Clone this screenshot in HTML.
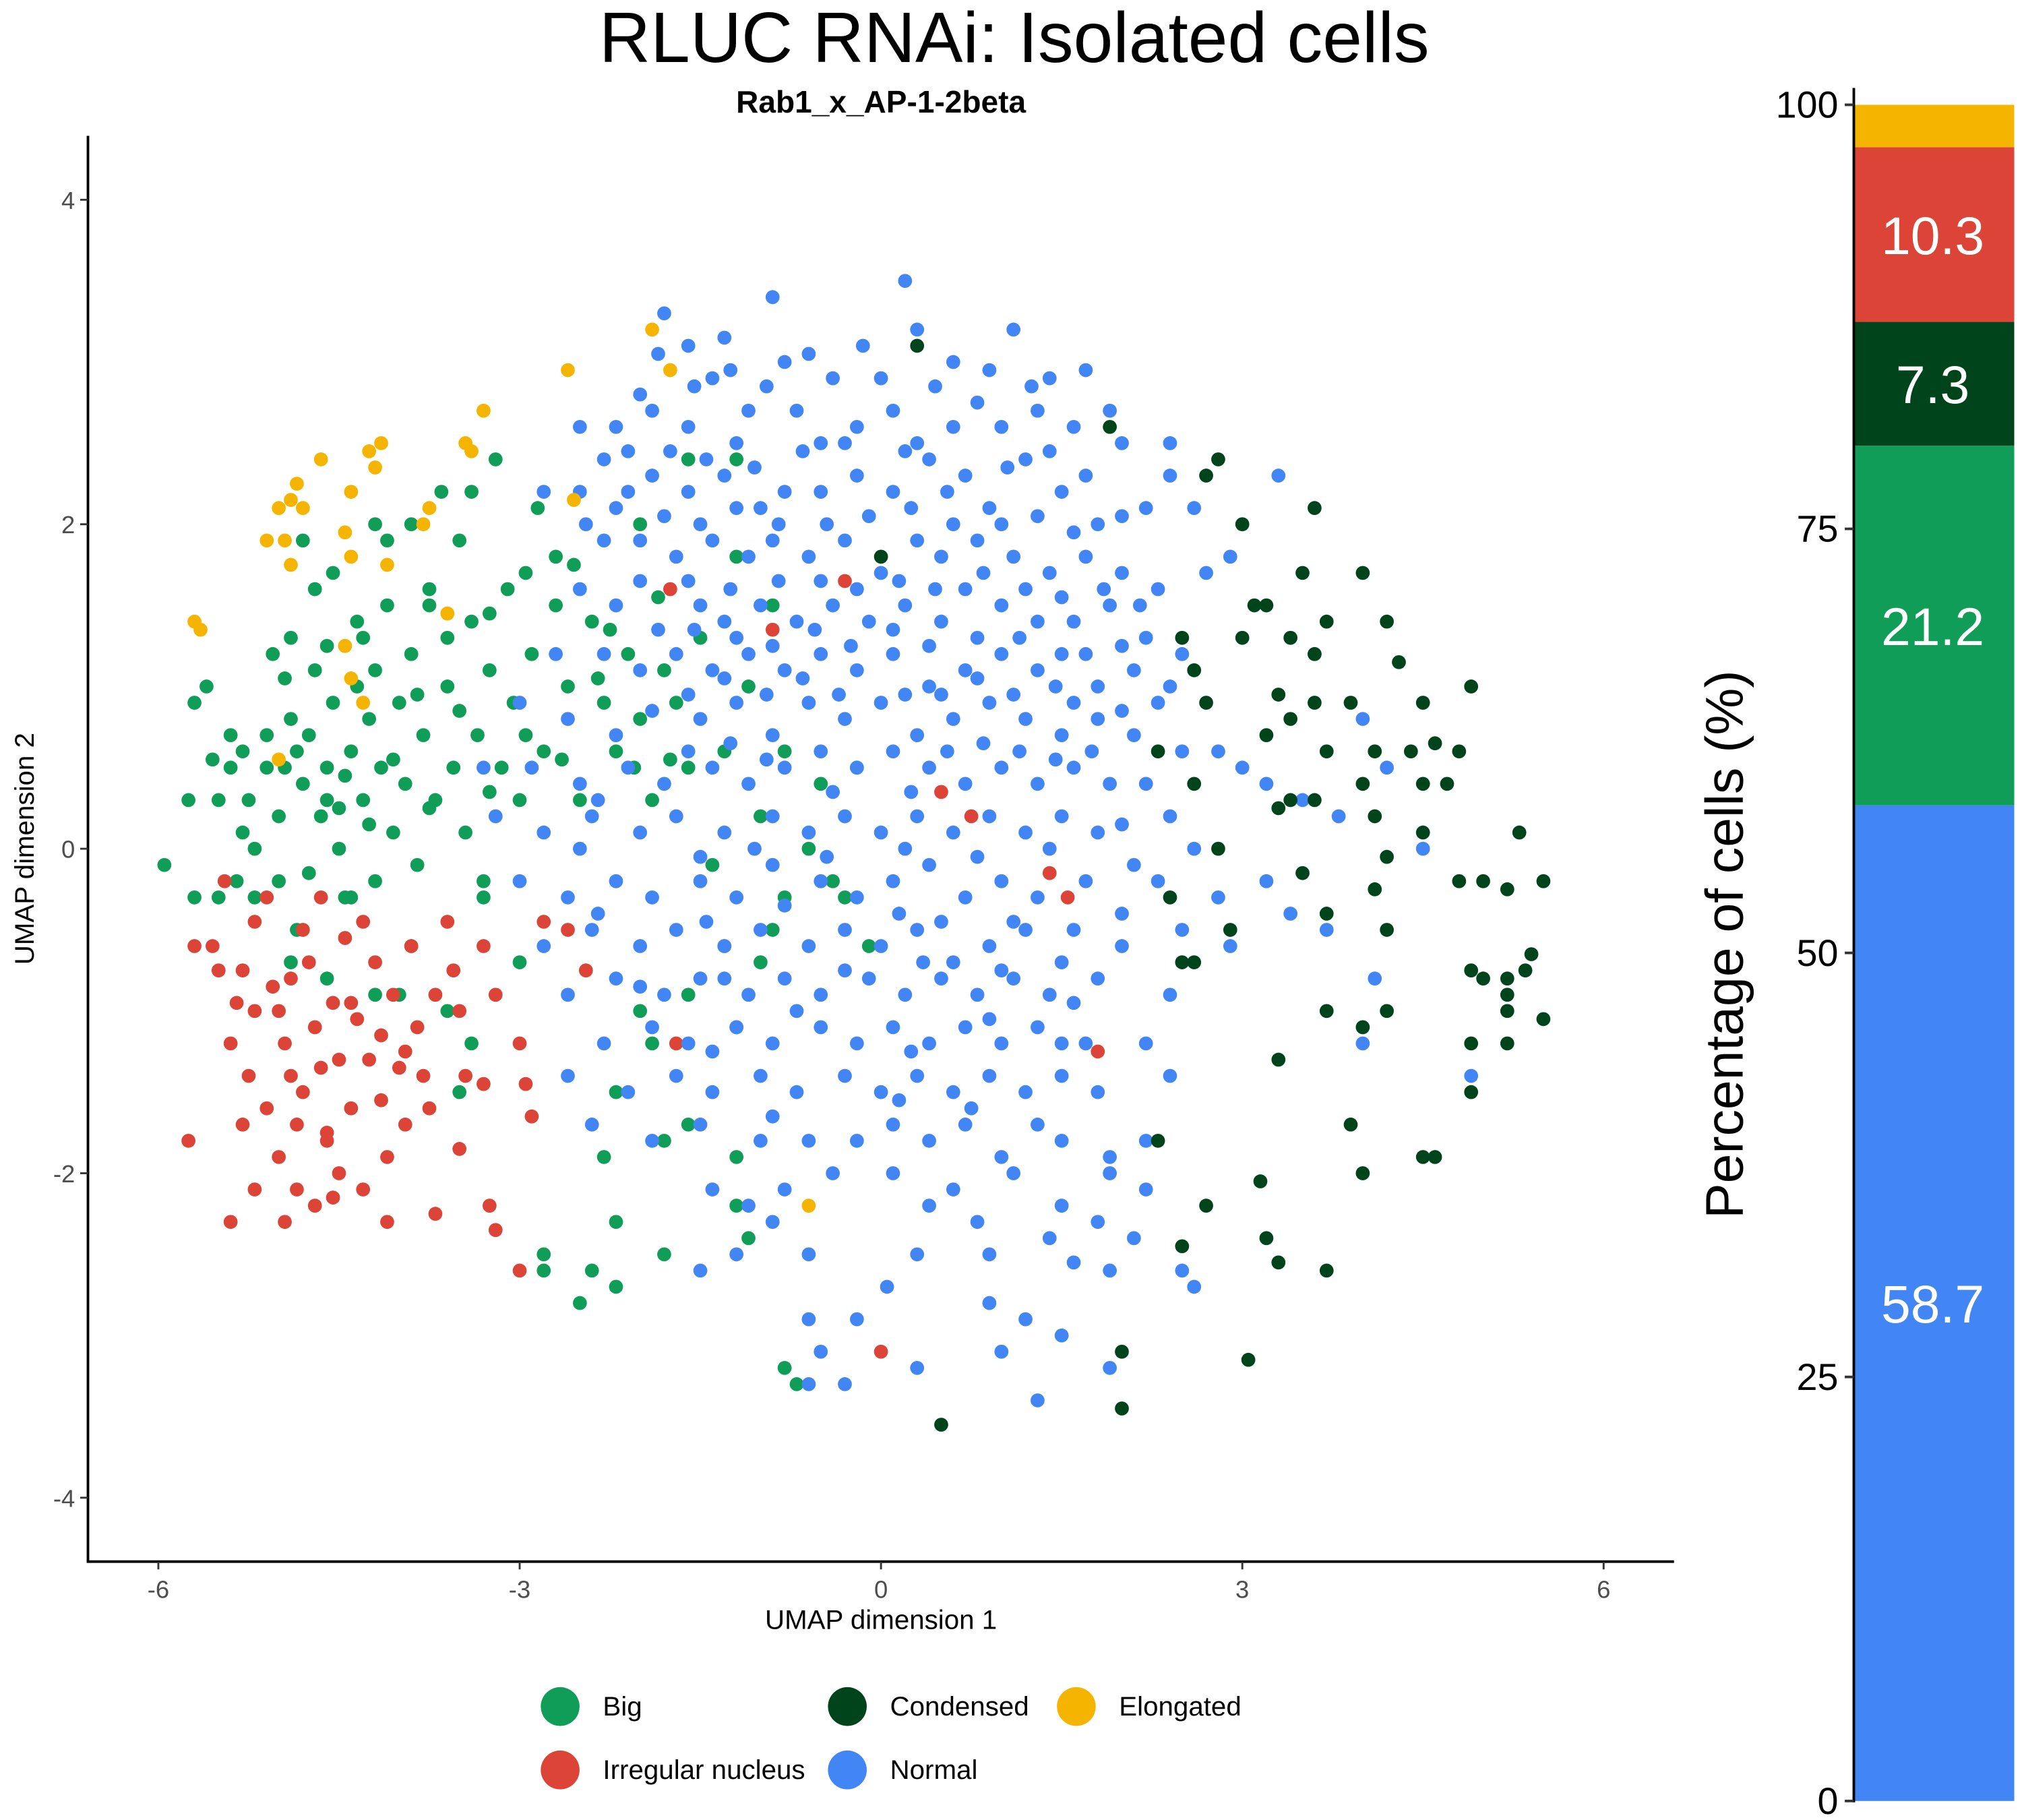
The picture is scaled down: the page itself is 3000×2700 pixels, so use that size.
<!DOCTYPE html>
<html><head><meta charset="utf-8">
<style>
html,body{margin:0;padding:0;background:#fff;}
svg{display:block;font-family:"Liberation Sans",sans-serif;}
</style></head>
<body>
<svg id="chart" width="3000" height="2700" viewBox="0 0 1563 1406.7" preserveAspectRatio="none" xmlns="http://www.w3.org/2000/svg">
<text x="784" y="48" font-size="55" text-anchor="middle" fill="#000">RLUC RNAi: Isolated cells</text>
<text x="681" y="87" font-size="24" font-weight="bold" text-anchor="middle" fill="#000">Rab1_x_AP-1-2beta</text>
<g id="points"></g>
<g id="axes"></g>
<g id="bar"></g>
<g id="legend"></g>
</svg>
<script>
const categories = ["Big","Condensed","Elongated","Irregular nucleus","Normal"];
const colors = {"Big":"#0F9D58","Condensed":"#00441B","Elongated":"#F4B400","Irregular nucleus":"#DB4437","Normal":"#4285F4"};
const xTicks = [-6,-3,0,3,6];
const yTicks = [-4,-2,0,2,4];
const barCategories = ["Normal","Big","Condensed","Irregular nucleus","Elongated"];
const barValues = [58.7,21.2,7.3,10.3,2.5];
const barTicks = [0,25,50,75,100];

const normalPts = [[-1.8,3.3],[-1.6,3.1],[-1.3,3.15],[-0.9,3.4],[0.2,3.5],[0.3,3.2],[-0.8,3.0],[-0.4,2.9],[0,2.9],[0.6,3.0],[1.1,3.2],[1.4,2.9],[1.7,2.95],[-2.0,2.8],[-2.2,2.6],[-2.5,2.6],[-2.3,2.4],[-1.9,2.7],[-1.6,2.6],[-1.4,2.9],[-1.1,2.7],[-1.2,2.5],[-0.7,2.7],[-0.5,2.5],[-0.2,2.6],[0.1,2.7],[0.3,2.5],[0.6,2.6],[0.8,2.75],[1.0,2.6],[1.3,2.7],[1.6,2.6],[1.9,2.7],[2.0,2.5],[2.4,2.5],[2.4,2.3],[-2.8,2.2],[-2.5,2.2],[-2.2,2.1],[-1.9,2.3],[-1.6,2.2],[-1.3,2.3],[-1.0,2.1],[-0.8,2.2],[-0.5,2.2],[-0.2,2.3],[0.1,2.2],[0.4,2.4],[0.7,2.3],[0.9,2.1],[1.2,2.4],[1.5,2.2],[1.8,2.0],[2.2,2.1],[-2.3,1.9],[-2.0,1.9],[-1.7,1.8],[-1.4,1.9],[-1.1,1.8],[-0.9,1.9],[-0.6,1.8],[-0.3,1.9],[0,1.7],[0.3,1.9],[0.5,1.8],[0.8,1.9],[1.1,1.8],[1.4,1.7],[1.7,1.8],[2.0,1.7],[2.3,1.6],[2.7,1.7],[-2.5,1.6],[-2.2,1.5],[-1.5,1.5],[-1.3,1.4],[-1.0,1.5],[-0.7,1.4],[-0.4,1.5],[-0.1,1.4],[0.2,1.5],[0.5,1.4],[0.7,1.6],[1.0,1.5],[1.3,1.4],[1.6,1.4],[1.9,1.5],[2.2,1.3],[2.5,1.2],[-2.7,1.2],[-2.3,1.2],[-2.0,1.1],[-1.7,1.2],[-1.4,1.1],[-1.1,1.2],[-0.8,1.1],[-0.5,1.2],[-0.2,1.1],[0.1,1.2],[0.4,1.0],[0.7,1.1],[1.0,1.2],[1.3,1.1],[1.5,1.2],[1.8,1.0],[2.1,1.1],[2.4,1.0],[-3.0,0.9],[-2.6,0.8],[-2.2,0.7],[-1.9,0.85],[-1.5,0.8],[-1.2,0.9],[-0.9,0.7],[-0.6,0.9],[-0.3,0.8],[0,0.9],[0.3,0.7],[0.6,0.8],[0.9,0.9],[1.2,0.8],[1.5,0.7],[1.8,0.8],[2.1,0.7],[2.5,0.6],[2.8,0.6],[-3.3,0.5],[-2.9,0.5],[-2.5,0.4],[-2.1,0.5],[-1.8,0.4],[-1.4,0.5],[-1.1,0.4],[-0.8,0.5],[-0.5,0.6],[-0.2,0.5],[0.1,0.6],[0.4,0.5],[0.7,0.4],[1.0,0.5],[1.3,0.4],[1.6,0.5],[1.9,0.4],[2.2,0.4],[3.0,0.5],[-3.2,0.2],[-2.8,0.1],[-2.4,0.2],[-2.0,0.1],[-1.7,0.2],[-1.3,0.1],[-0.9,0.2],[-0.6,0.1],[-0.3,0.2],[0,0.1],[0.3,0.2],[0.6,0.1],[0.9,0.2],[1.2,0.1],[1.5,0.2],[1.8,0.1],[2.1,-0.1],[2.6,0.0],[-3.0,-0.2],[-2.6,-0.3],[-2.2,-0.2],[-1.9,-0.3],[-1.5,-0.2],[-1.2,-0.3],[-0.9,-0.1],[-0.5,-0.2],[-0.2,-0.3],[0.1,-0.2],[0.4,-0.1],[0.7,-0.3],[1.0,-0.2],[1.3,-0.3],[1.7,-0.2],[2.0,-0.4],[2.3,-0.2],[2.8,-0.3],[3.4,-0.4],[-2.8,-0.6],[-2.4,-0.5],[-2.0,-0.6],[-1.7,-0.5],[-1.3,-0.6],[-1.0,-0.5],[-0.6,-0.6],[-0.3,-0.5],[0,-0.6],[0.3,-0.5],[0.6,-0.7],[0.9,-0.6],[1.2,-0.5],[1.5,-0.7],[2.0,-0.6],[2.5,-0.5],[3.7,-0.5],[-2.6,-0.9],[-2.2,-0.8],[-1.8,-0.9],[-1.5,-0.8],[-1.1,-0.9],[-0.8,-0.8],[-0.5,-0.9],[-0.1,-0.8],[0.2,-0.9],[0.5,-0.8],[0.8,-0.9],[1.1,-0.8],[1.4,-0.9],[1.8,-0.8],[2.4,-0.9],[4.1,-0.8],[-2.3,-1.2],[-1.9,-1.1],[-1.6,-1.2],[-1.2,-1.1],[-0.9,-1.2],[-0.5,-1.1],[-0.2,-1.2],[0.1,-1.1],[0.4,-1.2],[0.7,-1.1],[1.0,-1.2],[1.3,-1.1],[1.7,-1.2],[2.2,-1.2],[4.0,-1.2],[-2.6,-1.4],[-2.1,-1.5],[-1.7,-1.4],[-1.4,-1.5],[-1.0,-1.4],[-0.7,-1.5],[-0.3,-1.4],[0,-1.5],[0.3,-1.4],[0.6,-1.5],[0.9,-1.4],[1.2,-1.5],[1.5,-1.4],[1.8,-1.5],[2.4,-1.4],[4.9,-1.4],[-2.4,-1.7],[-1.9,-1.8],[-1.5,-1.7],[-1.0,-1.8],[-0.6,-1.8],[-0.2,-1.8],[0.1,-1.7],[0.4,-1.8],[0.7,-1.7],[1.0,-1.9],[1.5,-1.8],[1.9,-1.9],[2.2,-1.8],[-1.4,-2.1],[-0.8,-2.1],[-0.4,-2.0],[0.1,-2.0],[0.6,-2.1],[1.1,-2.0],[1.5,-2.2],[1.9,-2.0],[2.2,-2.1],[-1.2,-2.5],[-0.6,-2.5],[0.3,-2.5],[0.9,-2.5],[1.4,-2.4],[1.8,-2.3],[1.9,-2.6],[2.5,-2.6],[-1.5,-2.6],[-0.6,-2.9],[-0.2,-2.9],[0.9,-2.8],[1.2,-2.9],[1.5,-3.0],[2.6,-2.7],[-0.5,-3.1],[-0.3,-3.3],[0.3,-3.2],[1.0,-3.1],[1.9,-3.2],[1.3,-3.4],[-0.6,-3.3],[3.2,0.4],[3.5,0.3],[3.8,0.2],[4.2,0.5],[2.9,-0.6],[3.2,-0.2],[4.5,0.0],[4.0,0.8],[3.6,1.2],[2.9,1.8],[3.3,2.3],[2.6,2.1],
[-1.85,3.05],[-1.55,2.85],[-1.25,2.95],[-0.95,2.85],[-0.6,3.05],[-0.15,3.1],[0.45,2.85],[0.9,2.95],[1.25,2.85],[-2.1,2.45],[-1.75,2.45],[-1.45,2.4],[-1.05,2.35],[-0.65,2.45],[-0.3,2.5],[0.2,2.45],[0.55,2.2],[1.05,2.35],[1.4,2.45],[1.7,2.3],[-2.45,2.0],[-2.1,2.2],[-1.8,2.05],[-1.5,2.0],[-1.2,2.1],[-0.85,2.0],[-0.45,2.0],[-0.1,2.05],[0.25,2.1],[0.6,2.0],[1.0,2.0],[1.3,2.05],[1.6,1.95],[2.0,2.05],[-2.0,1.65],[-1.6,1.65],[-1.25,1.6],[-0.85,1.65],[-0.5,1.65],[-0.2,1.6],[0.15,1.65],[0.45,1.6],[0.85,1.7],[1.2,1.6],[1.5,1.55],[1.85,1.6],[2.15,1.5],[-1.85,1.35],[-1.55,1.35],[-1.2,1.3],[-0.9,1.25],[-0.55,1.35],[-0.25,1.25],[0.1,1.35],[0.4,1.25],[0.8,1.3],[1.15,1.3],[1.45,1.0],[1.7,1.2],[2.0,1.25],[2.3,0.9],[-1.6,0.95],[-1.3,1.05],[-0.95,0.95],[-0.65,1.05],[-0.35,0.95],[0.2,0.95],[0.5,0.95],[0.8,1.05],[1.1,0.95],[1.6,0.9],[2.0,0.85],[-2.35,0.3],[-1.6,0.6],[-1.25,0.65],[-0.95,0.55],[-0.4,0.35],[0.25,0.35],[0.55,0.6],[0.85,0.65],[1.15,0.6],[1.45,0.55],[1.75,0.6],[2.4,0.2],[-2.5,0.0],[-1.5,-0.05],[-1.05,0.0],[-0.45,-0.05],[0.2,0.0],[0.8,-0.05],[1.4,0.0],[2.0,0.15],[-2.35,-0.4],[-1.45,-0.45],[-0.8,-0.35],[0.15,-0.4],[0.5,-0.45],[1.1,-0.45],[1.6,-0.5],[-2.0,-0.85],[-1.3,-0.8],[-0.3,-0.75],[0.35,-0.7],[1.0,-0.75],[1.6,-0.95],[-1.4,-1.25],[-0.7,-1.0],[0.25,-1.25],[0.9,-1.05],[1.5,-1.2],[-0.9,-1.65],[0.15,-1.55],[0.75,-1.6],[1.3,-1.7],[-1.1,-2.2],[0.4,-2.2],[0.8,-2.3],[2.1,-2.4],[1.6,-2.55],[0.05,-2.7],[-0.9,-2.3]];
const bigPts = [[-5.95,-0.1],[-5.75,0.3],[-5.7,-0.3],[-5.7,0.9],[-5.6,1.0],[-5.5,-0.3],[-5.5,0.3],[-5.4,0.5],[-5.4,0.7],[-5.35,-0.2],[-5.3,0.6],[-5.25,0.3],[-5.2,-0.3],[-5.2,0.0],[-5.1,0.5],[-5.1,0.7],[-5.05,1.2],[-5.0,0.2],[-5.0,-0.2],[-4.95,0.5],[-4.9,0.8],[-4.9,1.3],[-4.85,-0.5],[-4.8,0.4],[-4.75,0.7],[-4.7,1.1],[-4.7,1.6],[-4.65,0.2],[-4.6,0.5],[-4.55,0.9],[-4.5,0.0],[-4.45,-0.3],[-4.4,0.6],[-4.35,1.0],[-4.3,1.3],[-4.3,0.3],[-4.25,0.8],[-4.2,-0.2],[-4.15,0.5],[-4.1,1.5],[-4.1,1.9],[-4.05,0.1],[-4.0,0.9],[-3.95,0.4],[-3.9,1.2],[-3.85,-0.1],[-3.8,0.7],[-3.75,1.6],[-3.7,0.3],[-3.65,2.2],[-3.6,1.0],[-3.55,0.5],[-3.5,1.9],[-3.45,0.1],[-3.4,1.4],[-3.35,0.7],[-3.3,-0.3],[-3.25,1.1],[-3.2,2.4],[-3.15,0.5],[-3.1,1.6],[-3.05,0.9],[-3.0,0.3],[-2.9,1.2],[-2.85,2.1],[-2.8,0.6],[-2.7,1.8],[-2.6,1.0],[-2.5,0.3],[-2.4,1.4],[-2.3,0.9],[-2.2,0.6],[-2.1,1.2],[-2.0,0.8],[-1.9,0.3],[-1.8,1.1],[-1.7,0.9],[-1.6,0.5],[-1.5,1.3],[-1.4,-0.1],[-1.3,0.6],[-1.2,1.8],[-1.1,1.0],[-1.0,0.2],[-0.9,1.5],[-0.8,0.6],[-0.6,0.0],[-0.5,0.4],[-0.4,-0.2],[-0.3,-0.3],[-0.2,0.5],[-0.1,-0.6],[-1.3,-0.6],[-0.8,-0.3],[-0.9,-0.5],[-1.0,-0.7],[-1.6,-0.9],[-1.2,-1.1],[-2.0,-1.0],[-1.9,-1.2],[-2.2,-1.5],[-2.3,-1.9],[-2.2,-2.3],[-2.4,-2.6],[-2.5,-2.8],[-2.2,-2.7],[-1.8,-2.5],[-1.6,-1.7],[-1.8,-1.8],[-1.2,-1.9],[-1.2,-2.2],[-1.1,-2.4],[-2.8,-2.5],[-2.8,-2.6],[-3.6,-1.0],[-3.4,-1.2],[-3.5,-1.5],[-3.0,-0.7],[-3.3,-0.2],[-4.2,-0.9],[-4.4,-0.3],[-4.6,-0.8],[-4.9,-0.7],[-3.9,-0.6],[-4.0,-0.9],[-0.8,-3.2],[-0.7,-3.3],[-2.7,1.5],[-3.9,2.0],[-4.2,2.0],[-4.35,1.4],[-3.75,1.5],[-4.55,1.7],[-3.4,2.2],[-2.0,2.0],[-1.6,2.4],[-1.2,2.4],[-4.8,1.9],
[-5.55,0.55],[-5.3,0.1],[-4.85,0.6],[-4.6,0.3],[-4.45,0.45],[-4.25,0.15],[-4.05,0.55],[-3.75,0.25],[-3.5,0.85],[-3.25,0.35],[-2.95,0.7],[-2.65,0.55],[-2.35,1.05],[-2.05,0.5],[-1.75,0.55],[-4.95,1.05],[-4.6,1.25],[-4.2,1.1],[-3.85,0.95],[-3.6,1.3],[-3.25,1.45],[-2.95,1.7],[-2.55,1.75],[-2.25,1.35],[-1.85,1.55],[-4.75,-0.15],[-4.5,0.25]];
const condensedPts = [[1.9,2.6],[2.8,2.4],[2.7,2.3],[3.6,2.1],[3.0,2.0],[3.5,1.7],[3.2,1.5],[4.0,1.7],[3.7,1.4],[2.5,1.3],[3.1,1.5],[3.4,1.3],[3.0,1.3],[2.6,1.1],[3.6,1.2],[4.2,1.4],[4.3,1.15],[2.7,0.9],[3.3,0.95],[3.6,0.9],[3.4,0.8],[3.9,0.9],[4.5,0.9],[4.9,1.0],[2.3,0.6],[3.2,0.7],[3.7,0.6],[4.1,0.6],[4.4,0.6],[4.6,0.65],[4.8,0.6],[4.5,0.4],[4.7,0.4],[4.0,0.4],[3.4,0.3],[3.6,0.3],[2.6,0.4],[4.1,0.2],[3.3,0.25],[5.3,0.1],[4.5,0.1],[2.8,0.0],[4.2,-0.05],[3.5,-0.15],[4.8,-0.2],[5.0,-0.2],[5.2,-0.25],[5.5,-0.2],[4.1,-0.25],[2.9,-0.5],[3.7,-0.4],[4.2,-0.5],[2.4,-0.3],[5.4,-0.65],[4.9,-0.75],[5.0,-0.8],[5.2,-0.8],[5.35,-0.75],[5.2,-0.9],[2.5,-0.7],[2.6,-0.7],[3.7,-1.0],[4.2,-1.0],[4.0,-1.1],[5.2,-1.0],[5.5,-1.05],[4.9,-1.2],[5.2,-1.2],[4.9,-1.5],[3.3,-1.3],[3.9,-1.7],[2.3,-1.8],[4.5,-1.9],[4.6,-1.9],[4.0,-2.0],[3.15,-2.05],[2.7,-2.2],[2.5,-2.45],[3.2,-2.4],[3.3,-2.55],[3.7,-2.6],[2.0,-3.1],[3.05,-3.15],[2.0,-3.45],[0.5,-3.55],[0.0,1.8],[0.3,3.1]];
const elongatedPts = [[-5.7,1.4],[-5.65,1.35],[-5.1,1.9],[-5.0,2.1],[-4.9,2.15],[-4.85,2.25],[-4.8,2.1],[-4.95,1.9],[-4.9,1.75],[-4.65,2.4],[-4.45,1.95],[-4.4,1.8],[-4.4,2.2],[-4.25,2.45],[-4.2,2.35],[-4.15,2.5],[-4.1,1.75],[-3.8,2.0],[-3.75,2.1],[-3.45,2.5],[-3.4,2.45],[-3.3,2.7],[-2.6,2.95],[-2.55,2.15],[-1.9,3.2],[-1.75,2.95],[-4.3,0.9],[-4.45,1.25],[-4.4,1.05],[-3.6,1.45],[-5.0,0.55],[-0.6,-2.2]];
const irregularPts = [[-5.55,-0.6],[-5.5,-0.75],[-5.45,-0.2],[-5.4,-1.2],[-5.35,-0.95],[-5.3,-0.75],[-5.25,-1.4],[-5.2,-1.0],[-5.2,-0.45],[-5.1,-1.6],[-5.0,-1.0],[-5.0,-1.9],[-4.95,-1.2],[-4.9,-1.4],[-4.9,-0.8],[-4.85,-2.1],[-4.8,-1.5],[-4.75,-0.7],[-4.7,-1.1],[-4.7,-2.2],[-4.65,-0.3],[-4.6,-1.75],[-4.55,-0.95],[-4.5,-1.3],[-4.5,-2.0],[-4.45,-0.55],[-4.4,-1.6],[-4.35,-1.05],[-4.3,-2.1],[-4.25,-1.3],[-4.2,-0.7],[-4.15,-1.55],[-4.1,-1.9],[-4.05,-0.9],[-4.0,-1.35],[-3.95,-1.7],[-3.9,-0.6],[-3.85,-1.1],[-3.8,-1.4],[-3.75,-1.6],[-3.7,-0.9],[-3.6,-0.45],[-3.55,-0.75],[-3.5,-1.85],[-3.45,-1.4],[-3.3,-0.6],[-3.2,-0.9],[-3.25,-2.2],[-3.2,-2.35],[-3.0,-1.2],[-2.95,-1.45],[-2.9,-1.65],[-2.8,-0.45],[-2.6,-0.5],[-2.45,-0.75],[-5.7,-0.6],[-5.75,-1.8],[-5.4,-2.3],[-5.2,-2.1],[-4.95,-2.3],[-4.6,-1.8],[-4.1,-2.3],[-5.1,-0.3],[-4.8,-0.5],[-4.3,-0.45],[-3.95,-1.25],[-3.3,-1.45],[-3.7,-2.25],[-1.75,1.6],[-0.9,1.35],[-0.3,1.65],[0.5,0.35],[0.75,0.2],[1.4,-0.15],[1.55,-0.3],[1.8,-1.25],[0,-3.1],[-1.7,-1.2],[-3.0,-2.6],[-3.5,-1.0],
[-5.05,-0.85],[-4.65,-1.35],[-4.4,-0.95],[-4.15,-1.15],[-4.85,-1.7],[-4.55,-2.15],[-5.3,-1.7]];
const seriesMap = {"Big":bigPts,"Irregular nucleus":irregularPts,"Normal":normalPts,"Condensed":condensedPts,"Elongated":elongatedPts};
const drawOrder = ["Big","Irregular nucleus","Normal","Condensed","Elongated"];

const NS = "http://www.w3.org/2000/svg";
function xs(v){return 681 + v*93.1;}
function ys(v){return 656 - v*125.4;}
function bys(v){return 1392 - v*13.11;}
function mk(tag, attrs, parent){const e=document.createElementNS(NS,tag);for(const k in attrs)e.setAttribute(k,attrs[k]);parent.appendChild(e);return e;}

const gp = document.getElementById('points');
drawOrder.forEach(cat=>{
  seriesMap[cat].forEach(p=>{
    const c = mk('circle',{cx:xs(p[0]),cy:ys(p[1]),r:5.4,fill:colors[cat]},gp);
    
    
  });
});

const ga = document.getElementById('axes');
let l = mk('line',{x1:68,y1:105,x2:68,y2:1207,stroke:'#000','stroke-width':2},ga);


l = mk('line',{x1:67,y1:1207,x2:1294,y2:1207,stroke:'#000','stroke-width':2},ga);


xTicks.forEach(t=>{
  const tk = mk('line',{x1:xs(t),y1:1207,x2:xs(t),y2:1213,stroke:'#333','stroke-width':1.5},ga);
  
  
  const tx = mk('text',{x:xs(t),y:1235,'font-size':19,'text-anchor':'middle',fill:'#4d4d4d'},ga);
  tx.textContent = String(t);
  
  
});
yTicks.forEach(t=>{
  const tk = mk('line',{x1:62,y1:ys(t),x2:68,y2:ys(t),stroke:'#333','stroke-width':1.5},ga);
  
  
  const tx = mk('text',{x:58,y:ys(t)+7,'font-size':19,'text-anchor':'end',fill:'#4d4d4d'},ga);
  tx.textContent = String(t);
  
  
});
let t1 = mk('text',{x:681,y:1259,'font-size':21,'text-anchor':'middle',fill:'#000'},ga);
t1.textContent='UMAP dimension 1';


let t2 = mk('text',{x:0,y:0,'font-size':21,'text-anchor':'middle',fill:'#000',transform:'translate(26,656) rotate(-90)'},ga);
t2.textContent='UMAP dimension 2';



const gb = document.getElementById('bar');
let cum = 0;
barCategories.forEach((cat,i)=>{
  const v = barValues[i];
  const r = mk('rect',{x:1433,y:bys(cum+v),width:124,height:bys(cum)-bys(cum+v),fill:colors[cat]},gb);
  
  
  if (v > 5) {
    const tx = mk('text',{x:1494,y:bys(cum+v/2)+15,'font-size':41,'text-anchor':'middle',fill:'#fff'},gb);
    tx.textContent = v.toFixed(1);
    
    
  }
  cum += v;
});
l = mk('line',{x1:1433,y1:68,x2:1433,y2:1393,stroke:'#000','stroke-width':2},gb);


barTicks.forEach(t=>{
  const tk = mk('line',{x1:1426,y1:bys(t),x2:1433,y2:bys(t),stroke:'#333','stroke-width':2},gb);
  
  
  const tx = mk('text',{x:1421,y:bys(t)+10,'font-size':29,'text-anchor':'end',fill:'#000'},gb);
  tx.textContent = String(t);
  
  
});
let t3 = mk('text',{x:0,y:0,'font-size':41,'text-anchor':'middle',fill:'#000',transform:'translate(1347,730) rotate(-90)'},gb);
t3.textContent='Percentage of cells (%)';



const legendItems = [["Big",433,1319],["Condensed",655,1319],["Elongated",832,1319],["Irregular nucleus",433,1368],["Normal",655,1368]];
const gl = document.getElementById('legend');
legendItems.forEach(it=>{
  const c = mk('circle',{cx:it[1],cy:it[2],r:15,fill:colors[it[0]]},gl);
  
  
  const tx = mk('text',{x:it[1]+33,y:it[2]+7,'font-size':21,fill:'#000'},gl);
  tx.textContent = it[0];
  
  
});
</script>
</body></html>
